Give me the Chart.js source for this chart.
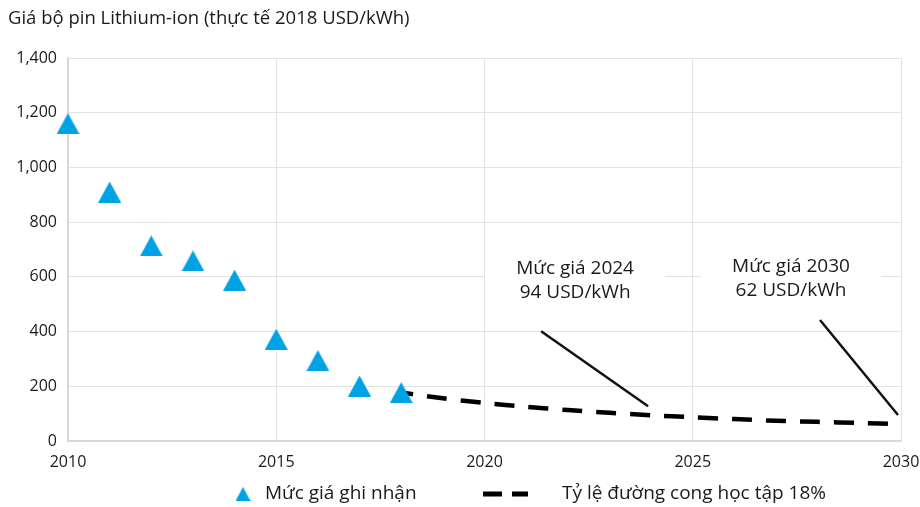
<!DOCTYPE html>
<html lang="vi">
<head>
<meta charset="utf-8">
<title>Giá bộ pin Lithium-ion</title>
<script src="https://cdn.jsdelivr.net/npm/chart.js@4.4.1/dist/chart.umd.min.js"></script>
<style>
  html, body { margin: 0; padding: 0; background: #ffffff; }
  #wrap { width: 920px; height: 507px; position: relative; }
</style>
</head>
<body>
<div id="wrap"><canvas id="chart" width="920" height="507"></canvas></div>
<script>
// Observed pack prices (real 2018 USD/kWh)
const observedYears = [2010, 2011, 2012, 2013, 2014, 2015, 2016, 2017, 2018];
const observedPrice = [1160, 910, 713, 658, 588, 372, 294, 201, 177];

// Projection along an 18% learning rate
const curveYears = [2018, 2019, 2020, 2021, 2022, 2023, 2024, 2025, 2026, 2027, 2028, 2029, 2030];
const curvePrice = [177, 156, 139, 125, 113, 103, 94, 87, 80, 74, 70, 66, 62];

// Axis ticks
const xTicks = [2010, 2015, 2020, 2025, 2030];
const yTicks = [0, 200, 400, 600, 800, 1000, 1200, 1400];

// Callout notes
const noteYears = [2024, 2030];
const notePrice = [94, 62];
const noteText = [['Mức giá 2024', '94 USD/kWh'], ['Mức giá 2030', '62 USD/kWh']];

const titleText = 'Giá bộ pin Lithium-ion (thực tế 2018 USD/kWh)';
const seriesNames = ['Mức giá ghi nhận', 'Tỷ lệ đường cong học tập 18%'];

const FONT = '"Open Sans", "Noto Sans", sans-serif';
const BLUE = '#00a2e6';
const TEXT = '#1a1a1a';
const GRID = '#e3e3e3';

// Filled upward triangle, centred on its bounding box
function triangleImage(w, h) {
  const c = document.createElement('canvas');
  c.width = w; c.height = h;
  const g = c.getContext('2d');
  g.fillStyle = BLUE;
  g.beginPath();
  g.moveTo(w / 2, 0);
  g.lineTo(w, h);
  g.lineTo(0, h);
  g.closePath();
  g.fill();
  return c;
}
const triMarker = triangleImage(23, 21);
const triLegend = triangleImage(15, 14);

const points = (xs, ys) => xs.map((x, i) => ({ x: x, y: ys[i] }));

// Callout placement relative to the annotated point
const noteLayout = [
  { textDx: -76, textDy: -147, lineDx: -107, lineDy: -75 },
  { textDx: -110, textDy: -157, lineDx: -78, lineDy: -95 }
];

// Title, callouts and the legend row
const decorations = {
  id: 'decorations',
  beforeDatasetsDraw(chart) {
    const { ctx, scales } = chart;
    ctx.save();
    ctx.fillStyle = '#ffffff';
    // white panels behind the callout text
    noteYears.forEach((yr, i) => {
      const px = scales.x.getPixelForValue(yr);
      const py = scales.y.getPixelForValue(notePrice[i]);
      const L = noteLayout[i];
      const cx = px + L.textDx;
      const ty = py + L.textDy;
      ctx.fillRect(cx - 90, ty - 24, 180, 70);
    });
    ctx.restore();
  },
  afterDatasetsDraw(chart) {
    const { ctx, scales } = chart;
    ctx.save();
    // callout leader lines and text
    noteYears.forEach((yr, i) => {
      const px = scales.x.getPixelForValue(yr);
      const py = scales.y.getPixelForValue(notePrice[i]);
      const L = noteLayout[i];
      const ex = px - 3, ey = py - 9;
      ctx.strokeStyle = '#111';
      ctx.lineWidth = 2.5;
      ctx.beginPath();
      ctx.moveTo(ex + L.lineDx, ey + L.lineDy);
      ctx.lineTo(ex, ey);
      ctx.stroke();

      const cx = px + L.textDx;
      const ty = py + L.textDy;
      ctx.fillStyle = TEXT;
      ctx.font = '19px ' + FONT;
      ctx.textAlign = 'center';
      ctx.textBaseline = 'middle';
      ctx.fillText(noteText[i][0], cx, ty);
      ctx.fillText(noteText[i][1], cx, ty + 24);
    });

    // title
    ctx.fillStyle = TEXT;
    ctx.font = '18.5px ' + FONT;
    ctx.textAlign = 'left';
    ctx.textBaseline = 'middle';
    ctx.fillText(titleText, 8, 19);

    // legend
    const ly = 494;
    ctx.drawImage(triLegend, 243 - 7.5, ly - 7);
    ctx.fillStyle = TEXT;
    ctx.font = '19px ' + FONT;
    ctx.fillText(seriesNames[0], 265, ly);
    ctx.strokeStyle = '#000';
    ctx.lineWidth = 5;
    ctx.beginPath();
    ctx.moveTo(483, ly); ctx.lineTo(502, ly);
    ctx.moveTo(512, ly); ctx.lineTo(528, ly);
    ctx.stroke();
    ctx.fillText(seriesNames[1], 562, ly);
    ctx.restore();
  }
};

new Chart(document.getElementById('chart'), {
  type: 'scatter',
  data: {
    datasets: [
      {
        label: seriesNames[0],
        data: points(observedYears, observedPrice),
        pointStyle: triMarker,
        pointRadius: 11,
        pointHoverRadius: 11,
        showLine: false,
        clip: false,
        order: 1
      },
      {
        label: seriesNames[1],
        data: points(curveYears, curvePrice),
        showLine: true,
        borderColor: '#000000',
        borderWidth: 4.5,
        borderDash: [20, 14],
        borderDashOffset: 8,
        borderCapStyle: 'butt',
        pointRadius: 0,
        pointHoverRadius: 0,
        tension: 0.3,
        fill: false,
        clip: false,
        order: 2
      }
    ]
  },
  options: {
    responsive: false,
    animation: false,
    locale: 'en-US',
    layout: { padding: { left: 0, right: 19, top: 58, bottom: 36 } },
    plugins: {
      legend: { display: false },
      title: { display: false },
      tooltip: { enabled: false }
    },
    scales: {
      x: {
        type: 'linear',
        min: 2010,
        max: 2030,
        afterBuildTicks: (s) => { s.ticks = xTicks.map(v => ({ value: v })); },
        afterFit: (s) => { s.height = 30; s.paddingLeft = 0; s.paddingRight = 0; },
        grid: { color: GRID, lineWidth: 1, drawTicks: false },
        border: { display: true, color: '#d6d6d6', width: 1.5 },
        ticks: {
          color: TEXT,
          font: { family: FONT, size: 16 },
          padding: 12,
          maxRotation: 0,
          callback: (v) => String(v)
        }
      },
      y: {
        min: 0,
        max: 1400,
        afterBuildTicks: (s) => { s.ticks = yTicks.map(v => ({ value: v })); },
        afterFit: (s) => { s.width = 68; s.paddingTop = 0; s.paddingBottom = 0; },
        grid: { color: GRID, lineWidth: 1, drawTicks: false },
        border: { display: true, color: '#d6d6d6', width: 1.5 },
        ticks: {
          color: TEXT,
          font: { family: FONT, size: 16 },
          padding: 11,
          callback: (v) => v.toLocaleString('en-US')
        }
      }
    }
  },
  plugins: [decorations]
});
</script>
</body>
</html>
